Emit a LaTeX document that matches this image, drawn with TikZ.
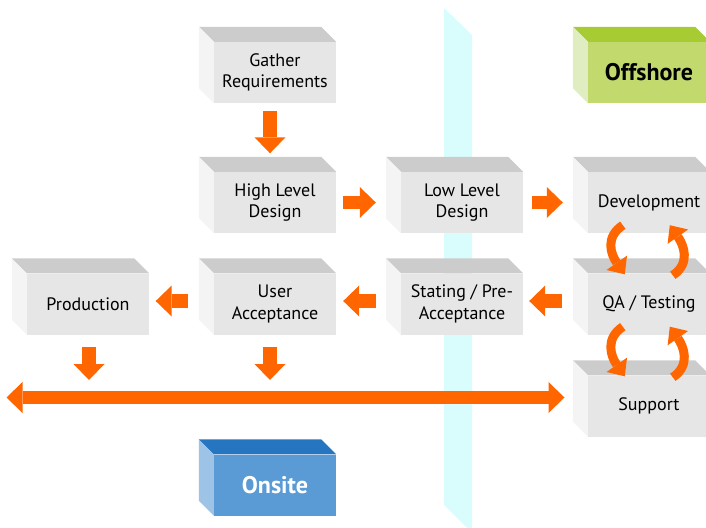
\documentclass[tikz,border=0pt]{standalone}
\usepackage{fontspec}
\setmainfont{PT Sans}
\usetikzlibrary{arrows.meta}

\definecolor{boxfront}{HTML}{E6E6E6}
\definecolor{boxtop}{HTML}{CCCCCC}
\definecolor{boxside}{HTML}{F4F4F4}
\definecolor{offfront}{HTML}{C2D96E}
\definecolor{offtop}{HTML}{A6CB33}
\definecolor{offside}{HTML}{E0EDC1}
\definecolor{onfront}{HTML}{5B9BD5}
\definecolor{ontop}{HTML}{2675C0}
\definecolor{onside}{HTML}{9DC3E6}
\definecolor{flow}{HTML}{FF6600}
\definecolor{divider}{HTML}{D9FDFD}

% top and left faces behind a box front
\newcommand{\cubefaces}[3]{%
  \fill[#2] (#1.north west) -- ([xshift=-15pt,yshift=15pt]#1.north west)
    -- ([xshift=-15pt,yshift=15pt]#1.north east) -- (#1.north east) -- cycle;
  \fill[#3] (#1.north west) -- ([xshift=-15pt,yshift=15pt]#1.north west)
    -- ([xshift=-15pt,yshift=15pt]#1.south west) -- (#1.south west) -- cycle;
}

\begin{document}
\begin{tikzpicture}[x=1pt, y=-1pt,
  box/.style={fill=boxfront, minimum width=122pt, minimum height=61pt,
    inner sep=0pt, align=center, font=\fontsize{18}{21.5}\selectfont},
  sitebox/.style={box, font=\fontsize{24}{28}\selectfont\bfseries},
  flowarrow/.style={draw=flow, line width=13.5pt,
    -{Triangle[width=31pt, length=16pt, line width=0pt]}},
  bendarrow/.style={draw=flow, line width=9pt,
    -{Triangle[width=25pt, length=14pt, line width=0pt]}}]

  \useasboundingbox (0,0) rectangle (706,527);
  \clip (0,0) rectangle (706,527);

  % divider between onsite and offshore
  \fill[divider] (444,8) -- (472,35) -- (472,533) -- (444,505) -- cycle;

  \node[box] (gather) at (275,72.5) {Gather\\Requirements};
  \node[box] (hld) at (275,202.5) {High Level\\Design};
  \node[box] (lld) at (462,202.5) {Low Level\\Design};
  \node[box] (dev) at (649,202.5) {Development};
  \node[box] (prod) at (88,304) {Production};
  \node[box] (uat) at (275,304) {User\\Acceptance};
  \node[box] (preacc) at (462,304) {Stating / Pre-\\Acceptance};
  \node[box] (qa) at (649,304) {QA / Testing};
  \node[box] (supp) at (649,406) {Support};
  \node[sitebox, fill=offfront] (offshore) at (649,72.5) {Offshore};
  \node[sitebox, fill=onfront, text=white] (onsite) at (275,485) {Onsite};

  \foreach \n in {gather,hld,lld,dev,prod,uat,preacc,qa,supp}
    {\cubefaces{\n}{boxtop}{boxside}}
  \cubefaces{offshore}{offtop}{offside}
  \cubefaces{onsite}{ontop}{onside}

  % flow arrows
  \draw[flowarrow] ([xshift=-5pt,yshift=-7.5pt]gather.south) -- ([xshift=-5pt,yshift=18.5pt]hld.north);
  \draw[flowarrow] ([xshift=7pt]hld.east) -- ([xshift=-25pt]lld.west);
  \draw[flowarrow] ([xshift=9pt]lld.east) -- ([xshift=-25pt]dev.west);
  \draw[flowarrow] ([xshift=-26pt,yshift=3pt]qa.west) -- ([xshift=6pt,yshift=3pt]preacc.east);
  \draw[flowarrow] ([xshift=-25pt,yshift=3pt]preacc.west) -- ([xshift=7pt,yshift=3pt]uat.east);
  \draw[flowarrow] ([xshift=-25.5pt,yshift=3pt]uat.west) -- ([xshift=6.5pt,yshift=3pt]prod.east);

  \foreach \a/\b in {dev/qa, qa/supp} {
    \draw[bendarrow] ([xshift=35pt,yshift=8pt]\a.south west)
      .. controls +(-18,12) and +(-14,-20) .. ([xshift=37pt,yshift=-1pt]\b.north west);
    \draw[bendarrow] ([xshift=85pt,yshift=-2pt]\b.north west)
      .. controls +(18,-12) and +(14,20) .. ([xshift=82pt,yshift=8pt]\a.south west);
  }

  % delivery line
  \coordinate (busL) at (6.5,397.5);
  \coordinate (busR) at (564.5,397.5);
  \draw[flowarrow, {Triangle[width=31pt, length=16pt, line width=0pt]}-{Triangle[width=31pt, length=16pt, line width=0pt]}] (busL) -- (busR);
  \draw[flowarrow, shorten >=17.5pt] ([xshift=1pt,yshift=-12.5pt]prod.south) -- ([xshift=1pt]prod.south |- busL);
  \draw[flowarrow, shorten >=17.5pt] ([xshift=-5pt,yshift=-12.5pt]uat.south) -- ([xshift=-5pt]uat.south |- busL);

\end{tikzpicture}
\end{document}
